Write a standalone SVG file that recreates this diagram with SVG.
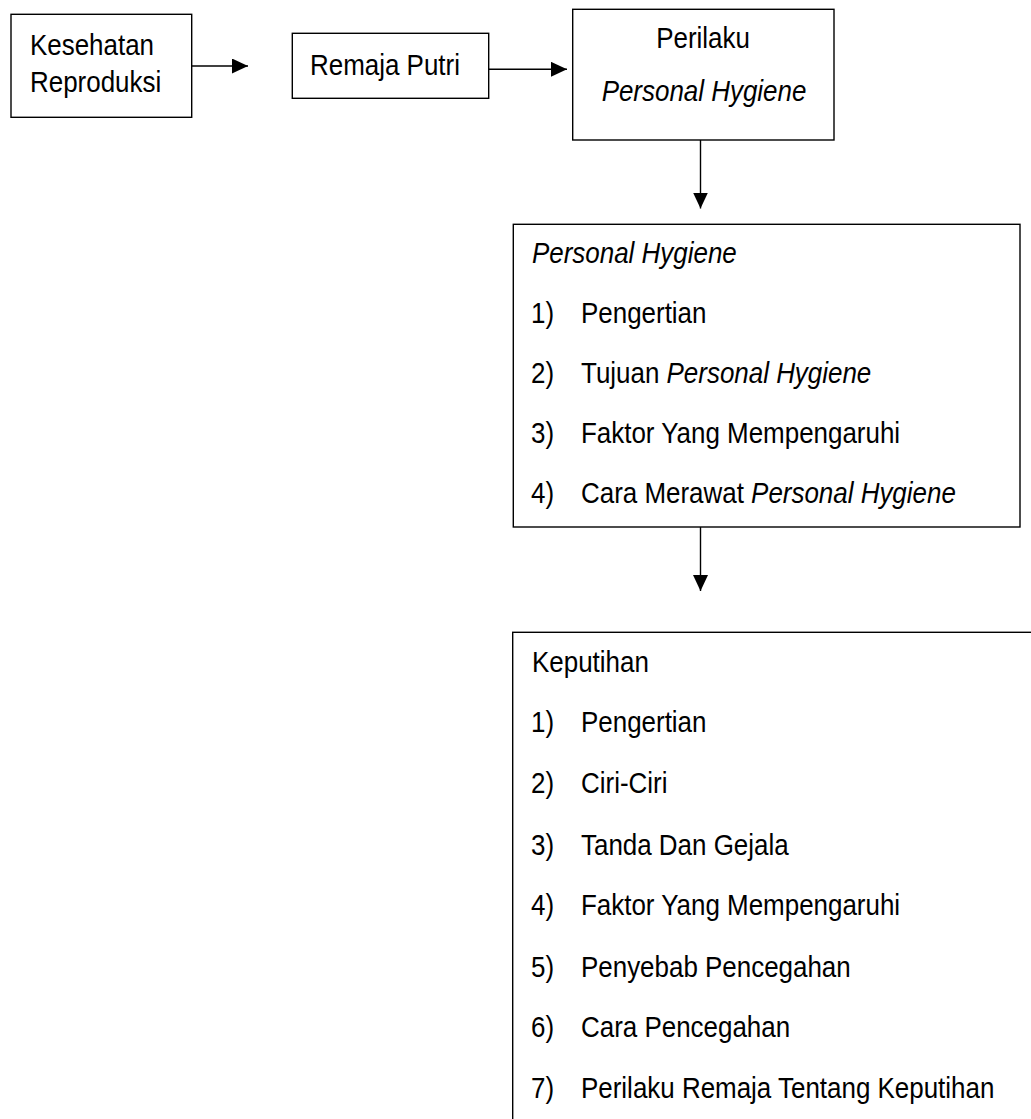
<svg xmlns="http://www.w3.org/2000/svg" width="1031" height="1119" viewBox="0 0 1031 1119">
  <style>
    .box { fill: #ffffff; stroke: #000000; stroke-width: 1.4; }
    .edge { fill: none; stroke: #000000; stroke-width: 1.4; }
    text { font-family: "Liberation Sans", Arial, sans-serif; font-size: 29px; fill: #000000; }
    .it { font-style: italic; }
    .mid { text-anchor: middle; }
  </style>
  <defs>
    <marker id="arrow" viewBox="0 0 16 15" refX="16" refY="7.5" markerWidth="16" markerHeight="15" markerUnits="userSpaceOnUse" orient="auto">
      <path d="M0,0 L16,7.5 L0,15 Z" fill="#000000"/>
    </marker>
  </defs>
  <rect width="1031" height="1119" fill="#ffffff"/>

  <g id="connectors">
    <line class="edge" x1="192" y1="66" x2="248" y2="66" marker-end="url(#arrow)"/>
    <line class="edge" x1="489" y1="69.3" x2="567" y2="69.3" marker-end="url(#arrow)"/>
    <line class="edge" x1="700.5" y1="140" x2="700.5" y2="208.5" marker-end="url(#arrow)"/>
    <line class="edge" x1="700.5" y1="527" x2="700.5" y2="591" marker-end="url(#arrow)"/>
  </g>

  <g id="node-kesehatan">
    <rect class="box" x="11" y="14.3" width="180.7" height="103"/>
    <text transform="translate(30,55) scale(0.895,1)">Kesehatan</text>
    <text transform="translate(30,92) scale(0.895,1)">Reproduksi</text>
  </g>

  <g id="node-remaja">
    <rect class="box" x="292.3" y="33.3" width="196.4" height="65"/>
    <text transform="translate(310,75) scale(0.895,1)">Remaja Putri</text>
  </g>

  <g id="node-perilaku">
    <rect class="box" x="572.7" y="9.3" width="261.3" height="130.7"/>
    <text class="mid" transform="translate(703,48) scale(0.895,1)">Perilaku</text>
    <text class="mid it" transform="translate(704,101) scale(0.895,1)">Personal Hygiene</text>
  </g>

  <g id="node-personal-hygiene">
    <rect class="box" x="513.3" y="224.3" width="506.7" height="302.7"/>
    <text class="it" transform="translate(532,263) scale(0.895,1)">Personal Hygiene</text>
    <text transform="translate(531,323) scale(0.895,1)">1)</text>
    <text transform="translate(581,323) scale(0.895,1)">Pengertian</text>
    <text transform="translate(531,383) scale(0.895,1)">2)</text>
    <text transform="translate(581,383) scale(0.895,1)">Tujuan <tspan class="it">Personal Hygiene</tspan></text>
    <text transform="translate(531,443) scale(0.895,1)">3)</text>
    <text transform="translate(581,443) scale(0.895,1)">Faktor Yang Mempengaruhi</text>
    <text transform="translate(531,503) scale(0.895,1)">4)</text>
    <text transform="translate(581,503) scale(0.895,1)">Cara Merawat <tspan class="it">Personal Hygiene</tspan></text>
  </g>

  <g id="node-keputihan">
    <rect class="box" x="512.7" y="632.3" width="600" height="600"/>
    <text transform="translate(532,672) scale(0.895,1)">Keputihan</text>
    <text transform="translate(531,732) scale(0.895,1)">1)</text>
    <text transform="translate(581,732) scale(0.895,1)">Pengertian</text>
    <text transform="translate(531,793) scale(0.895,1)">2)</text>
    <text transform="translate(581,793) scale(0.895,1)">Ciri-Ciri</text>
    <text transform="translate(531,855) scale(0.895,1)">3)</text>
    <text transform="translate(581,855) scale(0.895,1)">Tanda Dan Gejala</text>
    <text transform="translate(531,915) scale(0.895,1)">4)</text>
    <text transform="translate(581,915) scale(0.895,1)">Faktor Yang Mempengaruhi</text>
    <text transform="translate(531,977) scale(0.895,1)">5)</text>
    <text transform="translate(581,977) scale(0.895,1)">Penyebab Pencegahan</text>
    <text transform="translate(531,1037) scale(0.895,1)">6)</text>
    <text transform="translate(581,1037) scale(0.895,1)">Cara Pencegahan</text>
    <text transform="translate(531,1098) scale(0.895,1)">7)</text>
    <text transform="translate(581,1098) scale(0.895,1)">Perilaku Remaja Tentang Keputihan</text>
  </g>
</svg>
